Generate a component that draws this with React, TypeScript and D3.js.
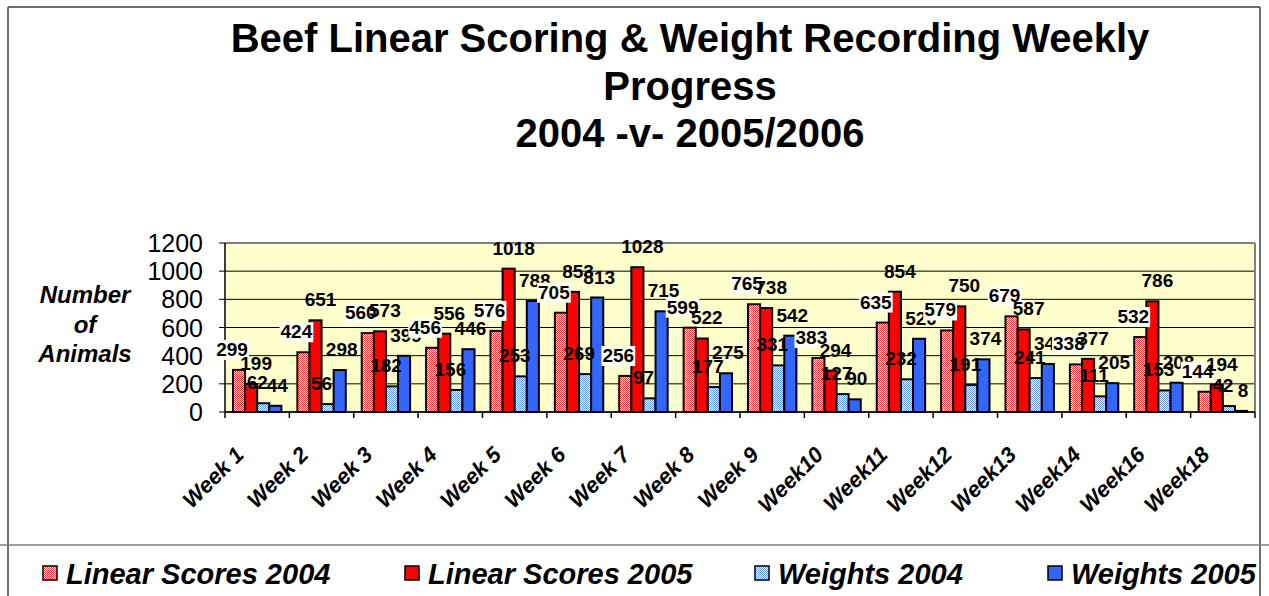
import React from "react";
import * as d3 from "d3";

const weeks = [
  "Week 1", "Week 2", "Week 3", "Week 4", "Week 5", "Week 6", "Week 7", "Week 8",
  "Week 9", "Week10", "Week11", "Week12", "Week13", "Week14", "Week16", "Week18",
];
const linear2004 = [299, 424, 560, 456, 576, 705, 256, 599, 765, 383, 635, 579, 679, 338, 532, 144];
const linear2005 = [199, 651, 573, 556, 1018, 853, 1028, 522, 738, 294, 854, 750, 587, 377, 786, 194];
const weights2004 = [62, 56, 182, 156, 253, 269, 97, 177, 331, 127, 232, 191, 241, 111, 153, 42];
const weights2005 = [44, 298, 399, 446, 788, 813, 715, 275, 542, 90, 520, 374, 341, 205, 208, 8];
const seriesNames = ["Linear Scores 2004", "Linear Scores 2005", "Weights 2004", "Weights 2005"];
const yTicks = [0, 200, 400, 600, 800, 1000, 1200];
const titleLines = ["Beef Linear Scoring & Weight Recording Weekly", "Progress", "2004 -v- 2005/2006"];
const yTitle = ["Number", "of", "Animals"];

const FONT = "'Liberation Sans', Arial, sans-serif";
const fills = ["url(#pinkDots)", "#FF0000", "url(#blueDots)", "#3366FF"];
// data labels sit a little off-centre per series, as in the original sheet
const labelShift = [-7, 5, -6, 2];

const W = 1269;
const H = 596;
const plot = { left: 225, right: 1255, top: 243, bottom: 412 };

export default function App() {
  const series = [linear2004, linear2005, weights2004, weights2005];

  const x = d3.scaleBand<string>().domain(weeks).range([plot.left, plot.right]);
  const inner = d3
    .scaleBand<number>()
    .domain(d3.range(series.length))
    .range([0, x.bandwidth()])
    .paddingOuter(0.66)
    .paddingInner(0);
  const y = d3.scaleLinear().domain([0, 1200]).range([plot.bottom, plot.top]);

  const labelOrder = [3, 2, 0, 1];
  const legendX = [43, 405, 755, 1048];

  return (
    <svg width={W} height={H} style={{ position: "absolute", left: 0, top: 0, background: "#fff" }} fontFamily={FONT}>
      <defs>
        <pattern id="pinkDots" width={2} height={2} patternUnits="userSpaceOnUse">
          <rect width={2} height={2} fill="#ffffff" />
          <rect width={1} height={1} fill="#FF3333" />
          <rect x={1} y={1} width={1} height={1} fill="#FF3333" />
        </pattern>
        <pattern id="blueDots" width={2} height={2} patternUnits="userSpaceOnUse">
          <rect width={2} height={2} fill="#ffffff" />
          <rect width={1} height={1} fill="#6699FF" />
          <rect x={1} y={1} width={1} height={1} fill="#6699FF" />
        </pattern>
      </defs>

      {/* page frame */}
      <line x1={8} x2={1260} y1={7} y2={7} stroke="#404040" strokeWidth={1.5} />
      <line x1={8} x2={8} y1={7} y2={H} stroke="#404040" strokeWidth={1.5} />
      <line x1={1260} x2={1260} y1={7} y2={H} stroke="#404040" strokeWidth={1.5} />
      <line x1={0} x2={W} y1={545} y2={545} stroke="#808080" strokeWidth={1.5} />

      {/* title */}
      {titleLines.map((t, i) => (
        <text key={t} x={690} y={52 + i * 47.5} textAnchor="middle" fontSize={40} fontWeight="bold">
          {t}
        </text>
      ))}

      {/* plot area */}
      <rect x={plot.left} y={plot.top} width={plot.right - plot.left} height={plot.bottom - plot.top} fill="#FFFFCC" />
      {yTicks.map((t) => (
        <g key={t}>
          <line x1={plot.left} x2={plot.right} y1={y(t)} y2={y(t)} stroke="#000" strokeWidth={1} />
          <line x1={plot.left - 6} x2={plot.left} y1={y(t)} y2={y(t)} stroke="#000" strokeWidth={1} />
          <text x={plot.left - 22} y={y(t) + 9} textAnchor="end" fontSize={25}>
            {t}
          </text>
        </g>
      ))}
      <line x1={plot.left} x2={plot.right} y1={plot.top} y2={plot.top} stroke="#808080" strokeWidth={2} />
      <line x1={plot.right} x2={plot.right} y1={plot.top} y2={plot.bottom} stroke="#808080" strokeWidth={2} />
      <line x1={plot.left} x2={plot.left} y1={plot.top} y2={plot.bottom + 6} stroke="#000" strokeWidth={1.5} />
      <line x1={plot.left} x2={plot.right} y1={plot.bottom} y2={plot.bottom} stroke="#000" strokeWidth={1.5} />
      {weeks.map((w) => (
        <line key={w} x1={(x(w) as number) + x.bandwidth()} x2={(x(w) as number) + x.bandwidth()} y1={plot.bottom} y2={plot.bottom + 6} stroke="#000" strokeWidth={1.5} />
      ))}

      {/* bars */}
      {series.map((vals, s) =>
        vals.map((v, i) => {
          const bx = (x(weeks[i]) as number) + (inner(s) as number);
          return (
            <rect
              key={`b${s}-${i}`}
              x={bx}
              y={y(v)}
              width={inner.bandwidth()}
              height={y(0) - y(v)}
              fill={fills[s]}
              stroke="#000"
              strokeWidth={2}
            />
          );
        })
      )}

      {/* data labels */}
      {labelOrder.map((s) =>
        series[s].map((v, i) => {
          const cx = (x(weeks[i]) as number) + (inner(s) as number) + inner.bandwidth() / 2 + labelShift[s];
          const by = y(v) - 14;
          const tw = String(v).length * 10.6;
          return (
            <g key={`l${s}-${i}`}>
              {s === 0 && <rect x={cx - tw / 2 - 1} y={by - 16} width={tw + 2} height={20} fill="#FFFFF2" />}
              <text x={cx} y={by} textAnchor="middle" fontSize={19} fontWeight="bold">
                {v}
              </text>
            </g>
          );
        })
      )}

      {/* x labels */}
      {weeks.map((w) => {
        const cx = (x(w) as number) + x.bandwidth() / 2;
        return (
          <text
            key={w}
            transform={`translate(${cx - 12},${plot.bottom + 44}) rotate(-45)`}
            textAnchor="end"
            fontSize={22}
            fontWeight="bold"
            fontStyle="italic"
          >
            {w}
          </text>
        );
      })}

      {/* y title */}
      {yTitle.map((t, i) => (
        <text key={t} x={85} y={303 + i * 29.5} textAnchor="middle" fontSize={24} fontWeight="bold" fontStyle="italic">
          {t}
        </text>
      ))}

      {/* legend */}
      {seriesNames.map((n, s) => (
        <g key={n}>
          <rect x={legendX[s]} y={566} width={14} height={14} fill={fills[s]} stroke="#000" strokeWidth={1.5} />
          <text x={legendX[s] + 23} y={584} fontSize={29} fontWeight="bold" fontStyle="italic">
            {n}
          </text>
        </g>
      ))}
    </svg>
  );
}
